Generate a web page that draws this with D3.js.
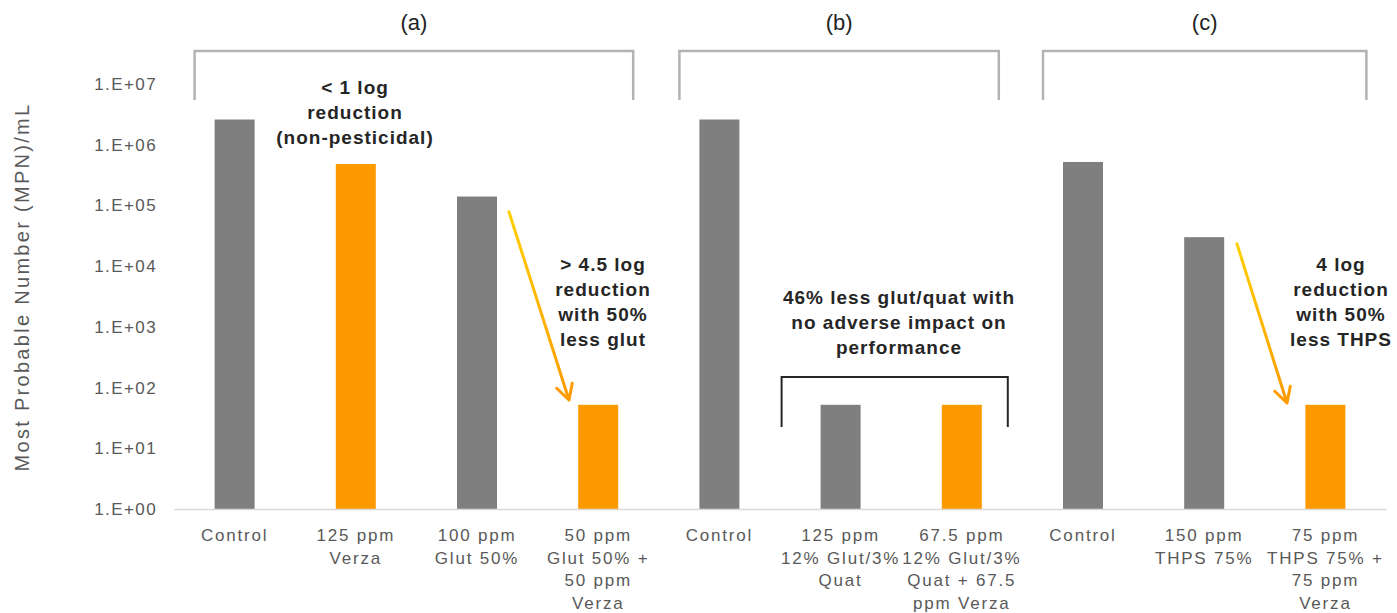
<!DOCTYPE html>
<html><head><meta charset="utf-8">
<script src="https://cdn.jsdelivr.net/npm/d3@7"></script>
<style>body{margin:0;background:#fff}svg{display:block}</style>
</head><body><svg id="c" width="1397" height="613"></svg>
<script>
const categories = ["Control","125 ppm\nVerza","100 ppm\nGlut 50%","50 ppm\nGlut 50% +\n50 ppm\nVerza","Control ","125 ppm\n12% Glut/3%\nQuat","67.5 ppm\n12% Glut/3%\nQuat + 67.5\nppm Verza","Control  ","150 ppm\nTHPS 75%","75 ppm\nTHPS 75% +\n75 ppm\nVerza"];
const values = [2600000, 480000, 140000, 52, 2600000, 52, 52, 520000, 30000, 52];
const seriesType = ["base","verza","base","verza","base","base","verza","base","base","verza"];
const tickValues = [1,10,100,1000,10000,100000,1000000,10000000];
const tickLabels = ["1.E+00","1.E+01","1.E+02","1.E+03","1.E+04","1.E+05","1.E+06","1.E+07"];
const groups = [{label:"(a)", from:0, to:3},{label:"(b)", from:4, to:6},{label:"(c)", from:7, to:9}];

const svg = d3.select("#c");
const L = 174, R = 1386, T = 84, B = 509;
const x = d3.scaleBand().domain(categories).range([L, R]).paddingInner(0.67).paddingOuter(0.335);
const y = d3.scaleLog().domain([1, 1e7]).range([B, T]);
const color = {base:"#7f7f7f", verza:"#ff9900"};
const FONT = "Liberation Sans, Arial";

// y axis
const yAxis = d3.axisLeft(y).tickValues(tickValues).tickFormat((d,i)=>tickLabels[i]).tickSize(0).tickPadding(17);
const gy = svg.append("g").attr("transform",`translate(${L},0)`).call(yAxis);
gy.select(".domain").remove();
gy.selectAll("text").attr("font-family",FONT).attr("font-size",17).attr("letter-spacing","1.4px").attr("fill","#595959");

// bars
svg.selectAll("rect.bar").data(categories).join("rect").attr("class","bar")
  .attr("x", d=>x(d)).attr("width", x.bandwidth())
  .attr("y", (d,i)=>y(values[i])).attr("height",(d,i)=>B - y(values[i]))
  .attr("fill",(d,i)=>color[seriesType[i]]);

// x axis
const xAxis = d3.axisBottom(x).tickSize(0).tickFormat("");
const gx = svg.append("g").attr("transform",`translate(0,${B})`).call(xAxis);
gx.select(".domain").attr("stroke","#d9d9d9").attr("stroke-width",1.5);
gx.selectAll(".tick").each(function(d){
  const lines = d.trim().split("\n");
  const t = d3.select(this).append("text").attr("fill","#595959").attr("font-family",FONT).attr("font-size",17)
    .attr("letter-spacing","1.8px").attr("text-anchor","middle");
  lines.forEach((ln,k)=>t.append("tspan").attr("x",0).attr("y",32 + k*22.5).text(ln));
});

// y label
svg.append("text").attr("transform","translate(29,287) rotate(-90)").attr("text-anchor","middle")
  .attr("font-family",FONT).attr("font-size",20).attr("letter-spacing","2.3px").attr("fill","#595959")
  .text("Most Probable Number (MPN)/mL");

// group brackets
const rightPad = [15, 17, 21];
groups.forEach((g,i)=>{
  const x0 = x(categories[g.from]) - 20, x1 = x(categories[g.to]) + x.bandwidth() + rightPad[i];
  svg.append("path").attr("d",`M${x0},100V51H${x1}V100`).attr("fill","none").attr("stroke","#b3b3b3").attr("stroke-width",2.5);
  svg.append("text").attr("x",(x0+x1)/2).attr("y",30).attr("text-anchor","middle")
    .attr("font-family",FONT).attr("font-size",22).attr("fill","#222").text(g.label);
});

// inner bracket (b)
{
  const x0 = x(categories[5]) - 39, x1 = x(categories[6]) + x.bandwidth() + 26;
  svg.append("path").attr("d",`M${x0},427V377H${x1}V427`).attr("fill","none").attr("stroke","#262626").attr("stroke-width",2);
}

// annotations
function ann(cx, y0, lines){
  const t = svg.append("text").attr("text-anchor","middle").attr("font-family",FONT)
    .attr("font-weight","bold").attr("font-size",19).attr("letter-spacing","1px").attr("fill","#262626");
  lines.forEach((ln,k)=>t.append("tspan").attr("x",cx).attr("y",y0 + k*25).text(ln));
}
ann(355, 94, ["< 1 log","reduction","(non-pesticidal)"]);
ann(603, 271, ["> 4.5 log","reduction","with 50%","less glut"]);
ann(899, 304, ["46% less glut/quat with","no adverse impact on","performance"]);
ann(1341, 271, ["4 log","reduction","with 50%","less THPS"]);

// arrows with gradient
const defs = svg.append("defs");
function arrow(id, x1, y1, x2, y2){
  const gr = defs.append("linearGradient").attr("id",id).attr("gradientUnits","userSpaceOnUse")
    .attr("x1",x1).attr("y1",y1).attr("x2",x2).attr("y2",y2);
  gr.append("stop").attr("offset","0").attr("stop-color","#ffd000");
  gr.append("stop").attr("offset","1").attr("stop-color","#ff9900");
  const ang = Math.atan2(y2-y1, x2-x1);
  const h = 17, a = 0.5;
  const p1 = [x2 - h*Math.cos(ang-a), y2 - h*Math.sin(ang-a)];
  const p2 = [x2 - h*Math.cos(ang+a), y2 - h*Math.sin(ang+a)];
  svg.append("path").attr("d",`M${x1},${y1}L${x2},${y2}M${p1[0]},${p1[1]}L${x2},${y2}L${p2[0]},${p2[1]}`)
    .attr("fill","none").attr("stroke",`url(#${id})`).attr("stroke-width",3).attr("stroke-linecap","round").attr("stroke-linejoin","round");
}
arrow("g1", 509, 212, 569, 400);
arrow("g2", 1237, 244, 1287, 403);
</script></body></html>
